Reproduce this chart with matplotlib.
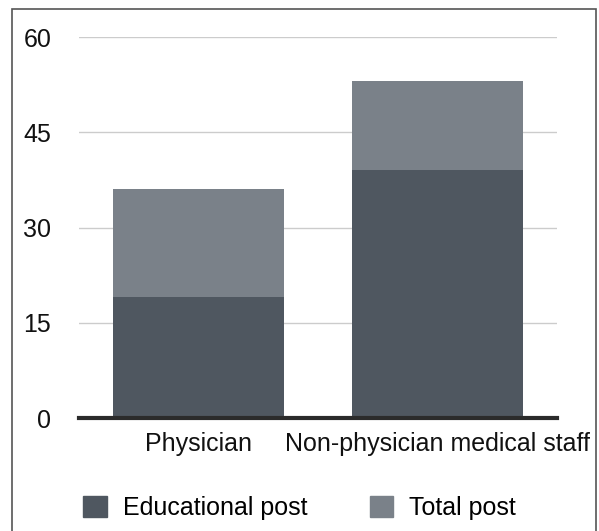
import numpy as np
import matplotlib.pyplot as plt
from matplotlib.patches import Rectangle, Patch

plt.rcParams['font.family'] = ['Liberation Sans', 'DejaVu Sans']

categories = ['Physician', 'Non-physician medical staff']
educational = [19, 39]
total_extra = [17, 14]   # stacked on top, top of bar = total post
yticks = [0, 15, 30, 45, 60]

dark = '#4f5760'
light = '#7a8189'
fs = 18

fig = plt.figure(figsize=(5.99, 5.31), dpi=100)
ax = fig.add_axes([0.1319, 0.2128, 0.798, 0.7175])

x = np.arange(len(categories))
ax.bar(x, educational, width=0.713, color=dark, zorder=2)
ax.bar(x, total_extra, bottom=educational, width=0.713, color=light, zorder=2)

ax.set_xlim(-0.5, 1.5)
ax.set_ylim(0, 60)
ax.set_yticks(yticks)
ax.set_yticklabels([str(t) for t in yticks], fontsize=fs)
ax.set_xticks(x)
ax.set_xticklabels(categories, fontsize=fs)
ax.tick_params(axis='both', length=0, colors='#111111')
ax.tick_params(axis='y', pad=20)
ax.tick_params(axis='x', pad=10)
for y in yticks[1:]:
    ax.axhline(y, color='#cccccc', lw=1, zorder=1)
ax.axhline(0, color='#2b2b2b', lw=3, zorder=3, clip_on=False)
for s in ax.spines.values():
    s.set_visible(False)

handles = [Patch(color=dark, label='Educational post'),
           Patch(color=light, label='Total post')]
fig.legend(handles=handles, loc='center', bbox_to_anchor=(0.5, 0.044), ncol=2,
           frameon=False, fontsize=fs, handlelength=0.93, handleheight=0.93,
           handletextpad=0.64, columnspacing=2.5)

fig.add_artist(Rectangle((12 / 599, -0.01), 584 / 599, 1 - 9 / 531 + 0.01,
                         transform=fig.transFigure, fill=False,
                         edgecolor='#555555', lw=1.2))

fig.savefig('out.png', dpi=100)
